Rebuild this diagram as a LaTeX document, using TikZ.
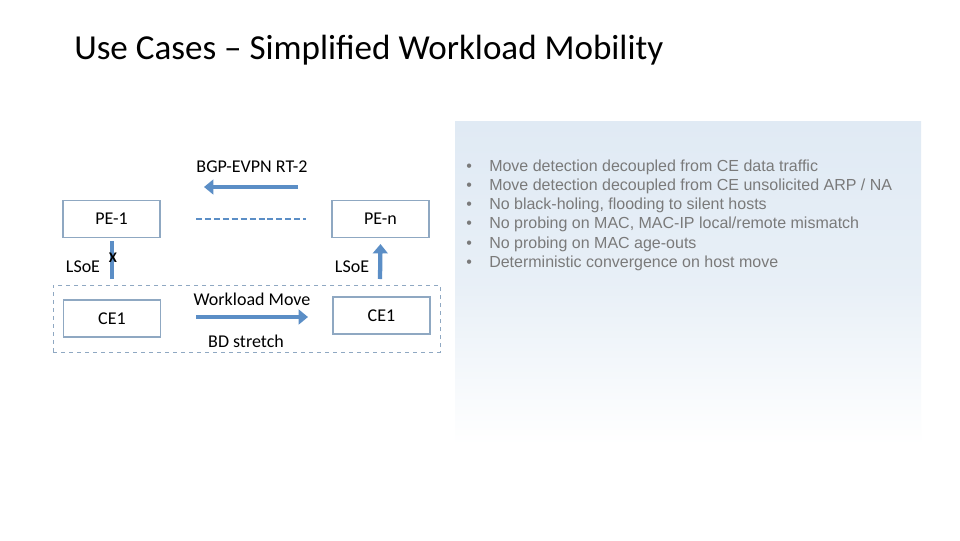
\documentclass[tikz,border=0pt]{standalone}
\usepackage{fontspec}
\setmainfont{Carlito}
\newfontfamily\arialf{Liberation Sans}
\usetikzlibrary{arrows.meta}
\definecolor{boxc}{HTML}{8FA8C2}
\definecolor{arrc}{HTML}{5B8EC6}
\definecolor{bulc}{HTML}{7A7A7A}
\definecolor{panc}{HTML}{E0EAF4}
\tikzset{
  boxn/.style={draw=boxc, line width=0.8pt, minimum width=97*0.75pt, minimum height=37*0.75pt, inner sep=0pt, font=\fontsize{13.5}{15}\selectfont},
  lbl/.style={inner sep=0pt, font=\fontsize{13.5}{15}\selectfont},
  fat/.style={draw=arrc, line width=3.2pt},
  fatarrow/.style={fat, -{Triangle[width=11pt,length=7pt]}},
  bul/.style={anchor=base west, inner sep=0pt, text=bulc, font=\arialf\fontsize{12}{14}\selectfont},
}
\begin{document}
\begin{tikzpicture}[x=0.75pt,y=-0.75pt]
\useasboundingbox (0,0) rectangle (960,540);
\fill[white] (0,0) rectangle (960,540);
% right panel
\shade[top color=panc, bottom color=white, middle color=panc!75!white] (455,121) rectangle (921,445);
% title
\node[anchor=base west, inner sep=0pt, font=\fontsize{26.3}{30}\selectfont] (title) at (74,59) {Use Cases – Simplified Workload Mobility};
% outer dashed box
\node[draw=boxc, dashed, line width=0.7pt, minimum width=387*0.75pt, minimum height=67*0.75pt, inner sep=0pt] (bd) at (246.5,318.5) {};
% boxes
\node[boxn] (pe1) at (111.5,219) {PE-1};
\node[boxn] (pen) at (380.5,219) {PE-n};
\node[boxn] (ce1) at (112,318.5) {CE1};
\node[boxn] (ce2) at (381.5,315.5) {CE1};
% labels
\node[lbl] (bgp) at (252,167) {BGP-EVPN RT-2};
\node[lbl] (wm) at (252,299) {Workload Move};
\node[lbl] (bds) at (246,341) {BD stretch};
\node[lbl] (ls1) at (83,267) {LSoE};
\node[lbl] (ls2) at (352,267) {LSoE};
% connectors
\coordinate (bgpA) at (298,187);
\coordinate (bgpB) at (204,187);
\draw[fatarrow] (bgpA) -- (bgpB);
\coordinate (dA) at (196,219);
\coordinate (dB) at (306,219);
\draw[draw=arrc, line width=1.2pt, dash pattern=on 4.5pt off 2.2pt] (dA) -- (dB);
\coordinate (wmA) at (196,317);
\coordinate (wmB) at (308,317);
\draw[fatarrow] (wmA) -- (wmB);
\coordinate (l1A) at (112,279);
\coordinate (l1B) at (112,241);
\draw[fat] (l1A) -- (l1B);
\node[inner sep=0pt, font=\bfseries\fontsize{11}{12}\selectfont] (xm) at (113,258) {X};
\coordinate (l2A) at (380,279);
\draw[fatarrow] (l2A) -- ([yshift=-6*0.75pt]pen.south);
% bullets
\foreach \t [count=\i] in {Move detection decoupled from CE data traffic,
  Move detection decoupled from CE unsolicited ARP / NA,
  {No black-holing, flooding to silent hosts},
  {No probing on MAC, MAC-IP local/remote mismatch},
  No probing on MAC age-outs,
  Deterministic convergence on host move}{
  \node[bul] (b\i) at (466,171+19.3*\i-19.3) {•};
  \node[bul] (t\i) at (489,171+19.3*\i-19.3) {\t};
}
\end{tikzpicture}
\end{document}
